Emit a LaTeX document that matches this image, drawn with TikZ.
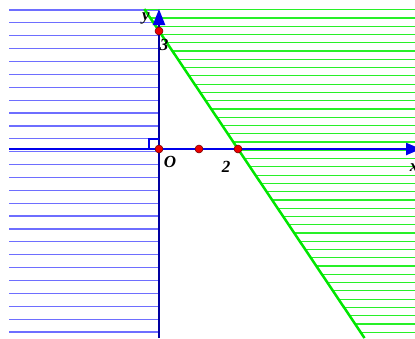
\documentclass[tikz,border=0pt]{standalone}
\usepackage{fontspec}
\setmainfont{Liberation Serif}
\usetikzlibrary{arrows.meta}
\definecolor{hatchgreen}{RGB}{40,240,40}
\definecolor{hatchblue}{RGB}{110,110,255}
\definecolor{bndgreen}{RGB}{0,230,0}
\definecolor{axisnavy}{RGB}{0,0,160}
\definecolor{axisblue}{RGB}{0,0,235}
\definecolor{dotred}{RGB}{235,0,0}
\begin{document}
\begin{tikzpicture}[x=1pt,y=-1pt,
  hatchg/.style={draw=hatchgreen,line width=1.2pt},
  hatchb/.style={draw=hatchblue,line width=1.2pt},
  bound/.style={draw=bndgreen,line width=2.5pt},
  axisx/.style={draw=axisblue,line width=2.3pt,-{Triangle[length=15pt,width=12pt]}},
  axisy/.style={draw=axisnavy,line width=2.3pt,-{Triangle[length=16pt,width=12pt,color=axisblue]}},
  dot/.style={circle,fill=dotred,draw=black!60!red,line width=0.5pt,inner sep=0pt,minimum size=8pt},
  lbl/.style={font=\fontsize{17}{17}\selectfont\bfseries\itshape,inner sep=0pt,text=black}]
\useasboundingbox (0,0) rectangle (415,338);
% hatch lines
\foreach \k in {0,...,25}{
  \pgfmathsetmacro{\yy}{10+\k*12.88}
  \draw[hatchb] (9,\yy) -- (159,\yy);
}
\foreach \k in {0,...,39}{
  \pgfmathsetmacro{\yy}{9.7+\k*8.27}
  \pgfmathsetmacro{\xx}{159+(\yy-31)/1.4937}
  \draw[hatchg] (\xx,\yy) -- (416,\yy);
}
% coordinates
\coordinate (ltop) at (144.3,9);
\coordinate (lbot) at (364.5,338);
\coordinate (xs) at (9,149);
\coordinate (xe) at (421,149);
\coordinate (ys) at (159,338);
\coordinate (ye) at (159,9);
% boundary line
\draw[bound] (ltop) -- (lbot);
% axes
\draw[axisx] (xs) -- (xe);
\draw[axisy] (ys) -- (ye);
% right angle mark
\draw[axisblue,line width=1.6pt] (149,149) -- (149,139) -- (159,139);
% points
\node[dot] (O) at (159,149) {};
\node[dot] (A) at (199,149) {};
\node[dot] (B) at (238,149) {};
\node[dot] (C) at (159,31) {};
% labels
\node[lbl] (ly) at (146,18) {y};
\node[lbl] (l3) at (164,45) {3};
\node[lbl] (lO) at (170,162) {O};
\node[lbl] (l2) at (226,167) {2};
\node[lbl] (lx) at (414,168) {x};
\end{tikzpicture}
\end{document}
